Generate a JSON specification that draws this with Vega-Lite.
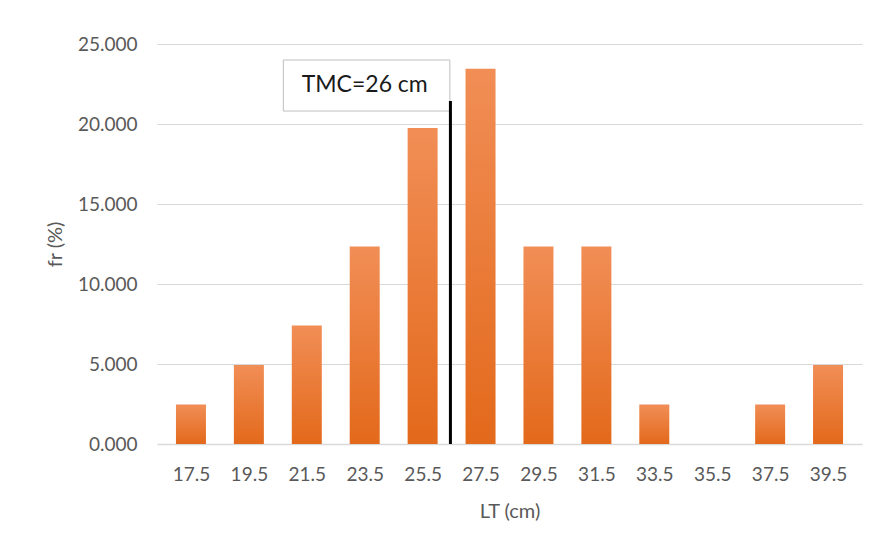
{
  "$schema": "https://vega.github.io/schema/vega-lite/v6.json",
  "width": 705,
  "height": 400,
  "autosize": "none",
  "padding": {"left": 157, "top": 44, "right": 16, "bottom": 104},
  "background": "white",
  "config": {
    "view": {"stroke": null},
    "font": "Lato",
    "axis": {
      "labelFont": "Lato",
      "titleFont": "Lato",
      "labelColor": "#595959",
      "titleColor": "#595959",
      "labelFontSize": 19,
      "titleFontSize": 20,
      "titleFontWeight": "normal",
      "ticks": false
    }
  },
  "layer": [
    {
      "data": {
        "values": [
          {"lt": 17.5, "fr": 2.469},
          {"lt": 19.5, "fr": 4.938},
          {"lt": 21.5, "fr": 7.407},
          {"lt": 23.5, "fr": 12.346},
          {"lt": 25.5, "fr": 19.753},
          {"lt": 27.5, "fr": 23.457},
          {"lt": 29.5, "fr": 12.346},
          {"lt": 31.5, "fr": 12.346},
          {"lt": 33.5, "fr": 2.469},
          {"lt": 35.5, "fr": 0},
          {"lt": 37.5, "fr": 2.469},
          {"lt": 39.5, "fr": 4.938}
        ]
      },
      "mark": {
        "type": "bar",
        "size": 30,
        "color": {
          "gradient": "linear",
          "x1": 0, "y1": 0, "x2": 0, "y2": 1,
          "stops": [
            {"offset": 0, "color": "#F18E56"},
            {"offset": 1, "color": "#E3691B"}
          ]
        }
      },
      "encoding": {
        "x": {
          "field": "lt",
          "type": "quantitative",
          "scale": {"domain": [16.5, 40.5], "nice": false, "zero": false},
          "axis": {
            "title": "LT (cm)",
            "values": [17.5, 19.5, 21.5, 23.5, 25.5, 27.5, 29.5, 31.5, 33.5, 35.5, 37.5, 39.5],
            "format": ".1f",
            "grid": false,
            "domainColor": "#D9D9D9",
            "domainWidth": 1.5,
            "labelPadding": 21,
            "titlePadding": 17
          }
        },
        "y": {
          "field": "fr",
          "type": "quantitative",
          "scale": {"domain": [0, 25], "nice": false},
          "axis": {
            "title": "fr (%)",
            "values": [0, 5, 10, 15, 20, 25],
            "format": ".3f",
            "domain": false,
            "grid": true,
            "gridColor": "#D9D9D9",
            "labelPadding": 20,
            "titlePadding": 12
          }
        }
      }
    },
    {
      "data": {"values": [{"x0": 20.69, "x1": 26.44, "y0": 20.81, "y1": 24.0}]},
      "mark": {"type": "rect", "fill": "white", "stroke": "#BFBFBF", "strokeWidth": 1},
      "encoding": {
        "x": {"field": "x0", "type": "quantitative"},
        "x2": {"field": "x1"},
        "y": {"field": "y0", "type": "quantitative"},
        "y2": {"field": "y1"}
      }
    },
    {
      "data": {"values": [{"lx": 23.5, "ly": 22.45, "label": "TMC=26 cm"}]},
      "mark": {"type": "text", "font": "Lato", "fontSize": 23, "color": "#1a1a1a", "align": "center", "baseline": "middle"},
      "encoding": {
        "x": {"field": "lx", "type": "quantitative"},
        "y": {"field": "ly", "type": "quantitative"},
        "text": {"field": "label"}
      }
    },
    {
      "data": {"values": [{"tmc": 26.46, "y0": 0, "y1": 21.44}]},
      "mark": {"type": "rule", "color": "black", "strokeWidth": 3},
      "encoding": {
        "x": {"field": "tmc", "type": "quantitative"},
        "y": {"field": "y0", "type": "quantitative"},
        "y2": {"field": "y1"}
      }
    }
  ]
}
